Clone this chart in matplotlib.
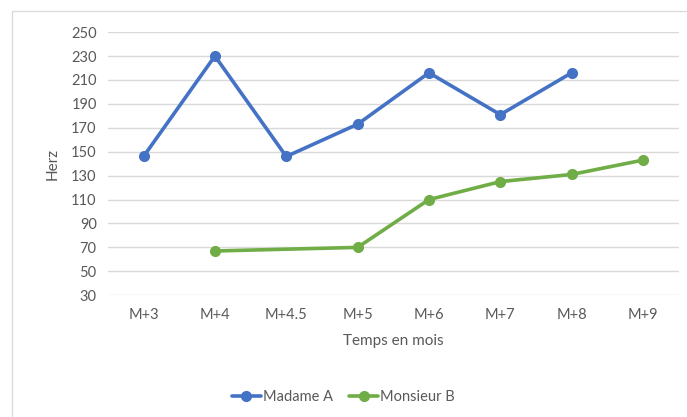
import matplotlib
matplotlib.use("Agg")
import matplotlib.pyplot as plt
import numpy as np
from matplotlib.patches import Rectangle

categories = ["M+3", "M+4", "M+4.5", "M+5", "M+6", "M+7", "M+8", "M+9"]
madame_a = [146, 230, 146, 173, 216, 181, 216, None]
monsieur_b = [None, 67, None, 70, 110, 125, 131, 143]
y_ticks = list(range(30, 251, 20))

plt.rcParams['font.family'] = ['Lato', 'DejaVu Sans']
text_color = "#595959"

fig = plt.figure(figsize=(6.87, 4.17), dpi=100)
ax = fig.add_axes([0.157, 0.292, 0.831, 0.631])

fig.patches.append(Rectangle((12/687, -0.1), 1.2, 1 - 11/417 + 0.1, transform=fig.transFigure,
                             fill=False, edgecolor="#D9D9D9", linewidth=0.9, zorder=0))

def draw(series, color, label):
    xs = [i for i, v in enumerate(series) if v is not None]
    ys = [v for v in series if v is not None]
    ax.plot(xs, ys, color=color, linewidth=2.6, marker="o", markersize=7,
            label=label, solid_capstyle="round", zorder=3)

draw(madame_a, "#4472C4", "Madame A")
draw(monsieur_b, "#70AD47", "Monsieur B")

ax.set_xlim(-0.5, len(categories) - 0.5)
ax.set_ylim(30, 250)
ax.set_yticks(y_ticks)
ax.set_xticks(range(len(categories)))
ax.set_xticklabels(categories)
ax.yaxis.grid(True, color="#D9D9D9", linewidth=1)
ax.set_axisbelow(True)
for s in ax.spines.values():
    s.set_visible(False)
ax.tick_params(axis="both", length=0, colors=text_color, labelsize=10.5)
ax.tick_params(axis="x", pad=9)
ax.tick_params(axis="y", pad=8)
ax.set_xlabel("Temps en mois", color=text_color, fontsize=11, labelpad=9)
ax.set_ylabel("Herz", color=text_color, fontsize=11, labelpad=8)

leg = fig.legend(loc="center", bbox_to_anchor=(0.5, 1 - 397/417), ncol=2,
                 frameon=False, fontsize=10.5, handlelength=2.0, columnspacing=1.1,
                 handletextpad=0.15, labelcolor=text_color)

fig.savefig("out.png", dpi=100)
